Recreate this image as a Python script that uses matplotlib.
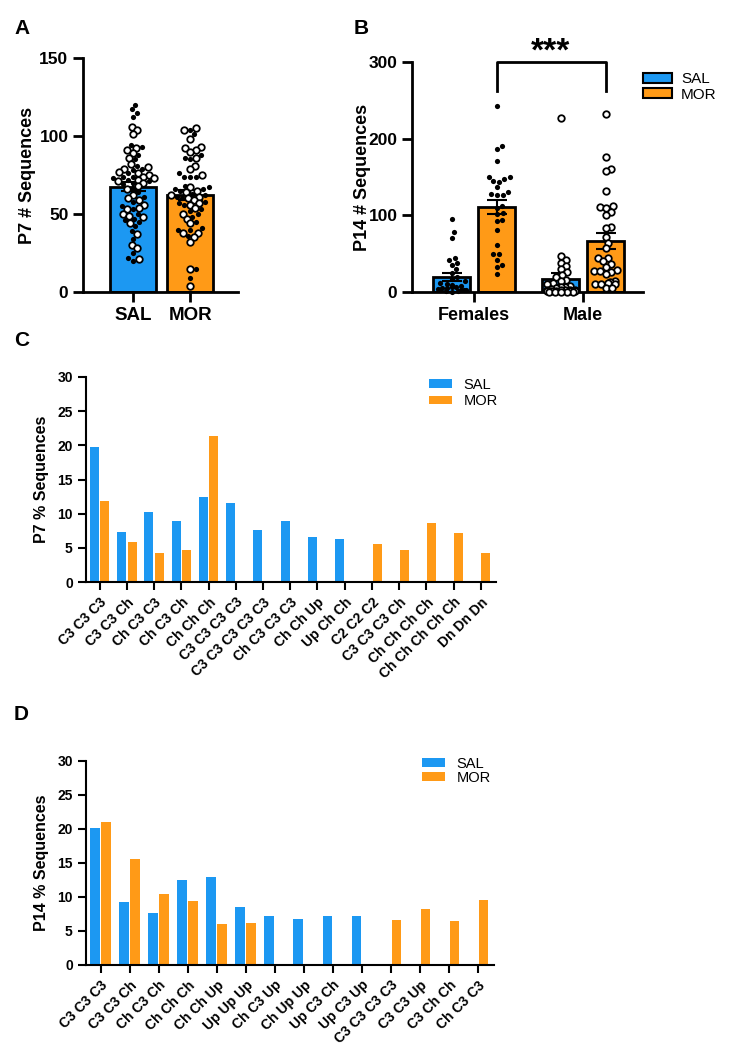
import numpy as np
import matplotlib
matplotlib.use("Agg")
import matplotlib.pyplot as plt
from matplotlib.patches import Patch

plt.rcParams['font.family'] = ['Liberation Sans', 'DejaVu Sans']
plt.rcParams['font.weight'] = 'bold'
plt.rcParams['axes.labelweight'] = 'bold'

BLUE = '#1C98F2'
ORANGE = '#FF9A17'

# ---------------- data ----------------
# Panel A (P7 number of sequences)
a_groups = ['SAL', 'MOR']
a_means = [67.5, 62.2]
a_sem = [3.0, 3.0]
a_sal_female = [120, 117, 115, 112, 94, 93, 88, 85, 81, 79, 78, 76, 74, 74, 73, 72, 71, 70,
                69, 66, 64, 61, 58, 55, 53, 50, 47, 46, 45, 42, 39, 34, 25, 22, 20]
a_sal_male = [106, 104, 101, 92, 91, 89, 86, 82, 80, 79, 77, 76, 75, 74, 73, 72, 71, 70,
              68, 66, 62, 60, 59, 56, 54, 53, 50, 49, 48, 44, 37, 30, 28, 21]
a_mor_female = [104, 101, 88, 86, 85, 76, 74, 74, 74, 68, 67, 66, 66, 65, 63, 62, 61, 60,
                58, 57, 56, 53, 52, 50, 48, 45, 41, 40, 40, 36, 15, 9]
a_mor_male = [105, 104, 98, 93, 92, 91, 90, 86, 81, 79, 75, 67, 65, 64, 62, 61, 60, 59,
              57, 56, 54, 50, 47, 44, 38, 38, 35, 32, 15, 4]

# Panel B (P14 number of sequences by sex)
b_groups = ['Females', 'Male']
b_sal_means = [19.6, 17.4]
b_sal_sem = [5.0, 8.0]
b_mor_means = [111.0, 66.5]
b_mor_sem = [9.5, 11.0]
b_fem_sal = [95, 78, 71, 45, 42, 38, 35, 30, 25, 20, 17, 14, 12, 10, 9, 8, 7, 6, 5, 5,
             4, 3, 3, 2, 2, 1, 1, 0.5]
b_fem_mor = [242, 190, 186, 171, 150, 150, 148, 145, 144, 137, 130, 128, 127, 126, 112,
             110, 103, 102, 94, 92, 81, 61, 50, 49, 42, 35, 33, 24]
b_male_sal = [227, 47, 42, 38, 34, 30, 26, 22, 19, 16, 14, 12, 10, 8, 7, 6, 5, 4, 3, 3,
              2, 2, 2, 1.5, 1, 1, 1, 0.8, 0.5, 0.5, 0.5, 0.3, 0.2]
b_male_mor = [232, 176, 160, 158, 132, 112, 111, 109, 105, 101, 85, 83, 72, 64, 57, 44,
              44, 40, 37, 33, 29, 28, 27, 26, 24, 14, 13, 12, 11, 11, 10, 5, 5]

# Panel C (P7 % sequences)
c_labels = ['C3 C3 C3', 'C3 C3 Ch', 'Ch C3 C3', 'Ch C3 Ch', 'Ch Ch Ch', 'C3 C3 C3 C3',
            'C3 C3 C3 C3 C3', 'Ch C3 C3 C3', 'Ch Ch Up', 'Up Ch Ch', 'C2 C2 C2',
            'C3 C3 C3 Ch', 'Ch Ch Ch Ch', 'Ch Ch Ch Ch Ch', 'Dn Dn Dn']
c_sal = [19.8, 7.3, 10.2, 8.9, 12.4, 11.5, 7.6, 8.9, 6.6, 6.35, 0, 0, 0, 0, 0]
c_mor = [11.8, 5.9, 4.3, 4.7, 21.3, 0, 0, 0, 0, 0, 5.5, 4.7, 8.7, 7.1, 4.3]

# Panel D (P14 % sequences)
d_labels = ['C3 C3 C3', 'C3 C3 Ch', 'Ch C3 Ch', 'Ch Ch Ch', 'Ch Ch Up', 'Up Up Up',
            'Ch C3 Up', 'Ch Up Up', 'Up C3 Ch', 'Up C3 Up', 'C3 C3 C3 C3', 'C3 C3 Up',
            'C3 Ch Ch', 'Ch C3 C3']
d_sal = [20.2, 9.2, 7.7, 12.5, 13.0, 8.6, 7.2, 6.75, 7.2, 7.2, 0, 0, 0, 0]
d_mor = [21.1, 15.6, 10.4, 9.4, 6.1, 6.2, 0, 0, 0, 0, 6.6, 8.3, 6.5, 9.6]

# ---------------- figure ----------------
W, H = 731, 1050
fig = plt.figure(figsize=(W / 100, H / 100), dpi=100)


def px_axes(left, top, right, bottom):
    return fig.add_axes([left / W, 1 - bottom / H, (right - left) / W, (bottom - top) / H])


def swarm(ax, xc, values, diam, maxw):
    vals = np.asarray(values, float)
    tr = ax.transData
    x0 = tr.transform((xc, 0))[0]
    order = np.argsort(vals)
    placed = []
    xs = np.zeros(len(vals))
    for i in order:
        yp = tr.transform((xc, vals[i]))[1]
        cands = [0.0]
        for (px, py) in placed:
            dy = yp - py
            if abs(dy) < diam:
                dx = np.sqrt(diam ** 2 - dy ** 2)
                cands += [px - x0 + dx, px - x0 - dx]
        cands = sorted(cands, key=abs)
        chosen = None
        for c in cands:
            if abs(c) > maxw:
                continue
            if all((x0 + c - px) ** 2 + (yp - py) ** 2 >= diam ** 2 - 1e-6 for px, py in placed):
                chosen = c
                break
        if chosen is None:
            k = len([1 for px, py in placed if abs(py - yp) < diam])
            chosen = ((k % 7) - 3) * maxw / 3.0
        placed.append((x0 + chosen, yp))
        xs[i] = x0 + chosen
    inv = tr.inverted()
    return np.array([inv.transform((x, 0))[0] for x in xs])


def style_ab(ax, lw=2.0):
    for s in ['top', 'right']:
        ax.spines[s].set_visible(False)
    for s in ['left', 'bottom']:
        ax.spines[s].set_linewidth(lw)
    ax.tick_params(width=lw, length=7, direction='out')


def draw_points(ax, xc, filled, opened, diam, maxw):
    allv = list(filled) + list(opened)
    xs = swarm(ax, xc, allv, diam, maxw)
    nf = len(filled)
    ax.scatter(xs[:nf], filled, s=14, c='black', zorder=5, linewidths=0, clip_on=False)
    ax.scatter(xs[nf:], opened, s=22, facecolors='white', edgecolors='black',
               linewidths=1.3, zorder=5, clip_on=False)

# ---- Panel A ----
axA = px_axes(83, 58, 238, 292)
axA.set_xlim(-0.87, 1.83)
axA.set_ylim(0, 150)
xa = np.arange(len(a_groups))
axA.bar(xa, a_means, width=0.8, color=[BLUE, ORANGE], edgecolor='black', linewidth=2.0, zorder=2)
axA.errorbar(xa, a_means, yerr=a_sem, fmt='none', ecolor='black', elinewidth=1.5,
             capsize=9, capthick=1.5, zorder=3)
draw_points(axA, 0, a_sal_female, a_sal_male, 6.0, 22)
draw_points(axA, 1, a_mor_female, a_mor_male, 6.0, 22)
axA.set_xticks(xa)
axA.set_xticklabels(a_groups, fontsize=13.5, fontweight='bold')
axA.set_yticks([0, 50, 100, 150])
axA.tick_params(axis='y', labelsize=12.5)
axA.set_ylabel('P7 # Sequences', fontsize=13, fontweight='bold', labelpad=2.5)
style_ab(axA)
fig.text(14 / W, 1 - 28 / H, 'A', fontsize=15, fontweight='bold', va='center', ha='left')

# ---- Panel B ----
axB = px_axes(412, 62, 643, 292)
axB.set_xlim(-0.57, 1.55)
axB.set_ylim(0, 300)
xb = np.arange(len(b_groups))
off = 0.206
bw = 0.34
axB.bar(xb - off, b_sal_means, width=bw, color=BLUE, edgecolor='black', linewidth=2.0,
        zorder=2, label='SAL')
axB.bar(xb + off, b_mor_means, width=bw, color=ORANGE, edgecolor='black', linewidth=2.0,
        zorder=2, label='MOR')
axB.errorbar(xb - off, b_sal_means, yerr=b_sal_sem, fmt='none', ecolor='black',
             elinewidth=1.5, capsize=7, capthick=1.5, zorder=3)
axB.errorbar(xb + off, b_mor_means, yerr=b_mor_sem, fmt='none', ecolor='black',
             elinewidth=1.5, capsize=7, capthick=1.5, zorder=3)
draw_points(axB, 0 - off, b_fem_sal, [], 6.0, 14)
draw_points(axB, 0 + off, b_fem_mor, [], 6.0, 14)
draw_points(axB, 1 - off, [], b_male_sal, 6.0, 14)
draw_points(axB, 1 + off, [], b_male_mor, 6.0, 14)
axB.set_xticks(xb)
axB.set_xticklabels(b_groups, fontsize=13, fontweight='bold')
axB.set_yticks([0, 100, 200, 300])
axB.tick_params(axis='y', labelsize=12.5)
axB.set_ylabel('P14 # Sequences', fontsize=13, fontweight='bold', labelpad=-2)
style_ab(axB)
# significance bracket
axB.plot([0 + off, 0 + off, 1 + off, 1 + off], [262, 300, 300, 262], color='black',
         lw=2.0, clip_on=False, zorder=4)
axB.text(0.5 + off, 313, '***', ha='center', va='center', fontsize=24, fontweight='bold')
fig.text(354 / W, 1 - 28 / H, 'B', fontsize=15, fontweight='bold', va='center', ha='left')
fig.legend(handles=[Patch(facecolor=BLUE, edgecolor='black', linewidth=1.5, label='SAL'),
                    Patch(facecolor=ORANGE, edgecolor='black', linewidth=1.5, label='MOR')],
           loc='upper left', bbox_to_anchor=(643 / W, 1 - 72 / H), frameon=False,
           borderpad=0, borderaxespad=0, handlelength=1.9, handleheight=0.65,
           handletextpad=0.6, labelspacing=0.1, prop={'weight': 'normal', 'size': 11})


def style_cd(ax):
    for s in ['top', 'right']:
        ax.spines[s].set_visible(False)
    for s in ['left', 'bottom']:
        ax.spines[s].set_linewidth(1.5)
    ax.tick_params(width=1.5, length=6, direction='out', labelsize=10)


def pct_panel(ax, labels, sal, mor, ylabel, xright):
    x = np.arange(len(labels))
    ax.bar(x - 0.19, sal, width=0.33, color=BLUE, linewidth=0, label='SAL')
    ax.bar(x + 0.19, mor, width=0.33, color=ORANGE, linewidth=0, label='MOR')
    ax.set_xlim(-0.5, xright)
    ax.set_ylim(0, 30)
    ax.set_yticks([0, 5, 10, 15, 20, 25, 30])
    ax.set_xticks(x)
    ax.set_xticklabels(labels, rotation=45, ha='right', va='top', rotation_mode='anchor',
                       fontsize=10, fontweight='bold')
    ax.set_ylabel(ylabel, fontsize=11.5, fontweight='bold', labelpad=6)
    style_cd(ax)

# ---- Panel C ----
axC = px_axes(86, 377, 496, 582)
pct_panel(axC, c_labels, c_sal, c_mor, 'P7 % Sequences', 14.56)
fig.text(14 / W, 1 - 341 / H, 'C', fontsize=15, fontweight='bold', va='center', ha='left')
fig.legend(handles=[Patch(facecolor=BLUE, label='SAL'), Patch(facecolor=ORANGE, label='MOR')],
           loc='upper left', bbox_to_anchor=(429 / W, 1 - 378 / H), frameon=False,
           borderpad=0, borderaxespad=0, handlelength=1.6, handleheight=0.55,
           handletextpad=0.75, labelspacing=0.15, prop={'weight': 'normal', 'size': 10.5})

# ---- Panel D ----
axD = px_axes(86, 761, 494, 965)
pct_panel(axD, d_labels, d_sal, d_mor, 'P14 % Sequences', 13.55)
fig.text(14 / W, 1 - 714 / H, 'D', fontsize=15, fontweight='bold', va='center', ha='left')
fig.legend(handles=[Patch(facecolor=BLUE, label='SAL'), Patch(facecolor=ORANGE, label='MOR')],
           loc='upper left', bbox_to_anchor=(422 / W, 1 - 757 / H), frameon=False,
           borderpad=0, borderaxespad=0, handlelength=1.6, handleheight=0.55,
           handletextpad=0.75, labelspacing=0.0, prop={'weight': 'normal', 'size': 10.5})

fig.savefig('out.png', dpi=100)
